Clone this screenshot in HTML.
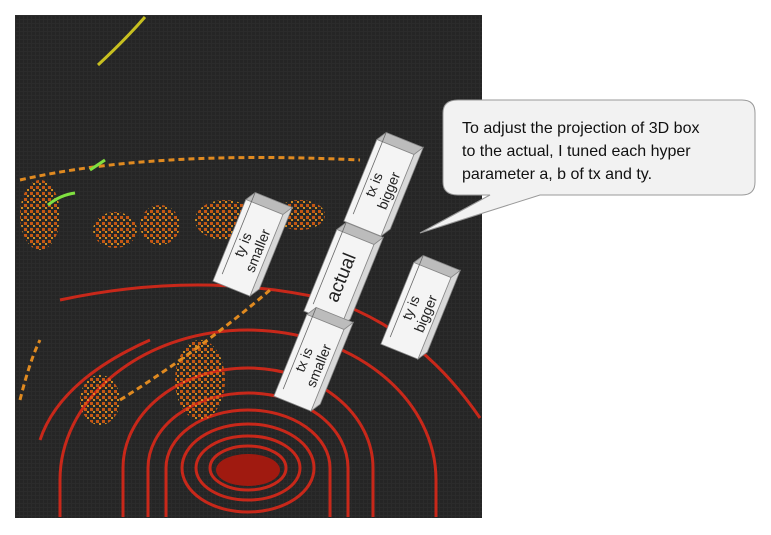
<!DOCTYPE html>
<html><head><meta charset="utf-8"><style>
html,body{margin:0;padding:0;background:#fff;width:771px;height:535px;overflow:hidden;font-family:"Liberation Sans",Arial,sans-serif}
svg{display:block}
</style></head><body>
<svg width="771" height="535" viewBox="0 0 771 535">
<defs>
<pattern id="grid" width="4" height="4" patternUnits="userSpaceOnUse"><rect width="4" height="4" fill="#2b2b2b"/><rect width="3" height="3" fill="#252525"/></pattern>
<pattern id="speck" width="6" height="6" patternUnits="userSpaceOnUse"><rect width="3" height="3" fill="#e06010"/><rect x="3" y="3" width="2" height="2" fill="#f0a020"/></pattern>
</defs>
<g>
<rect x="15" y="15" width="467" height="503" fill="url(#grid)"/>
<g fill="none" stroke="#c8281a" stroke-width="3">
<ellipse cx="248" cy="468" rx="38" ry="22"/>
<ellipse cx="248" cy="468" rx="52" ry="32"/>
<ellipse cx="248" cy="468" rx="66" ry="44"/>
<path d="M166 517 L166 468 A82 58 0 0 1 330 468 L330 517"/>
<path d="M148 517 L148 468 A100 75 0 0 1 348 468 L348 517"/>
<path d="M123 517 L123 468 A125 100 0 0 1 373 468 L373 517"/>
<path d="M60 517 L60 480 A188 150 0 0 1 436 480 L436 517"/>
<path d="M60 300 Q200 270 330 300 Q420 330 480 418"/>
<path d="M40 440 Q60 380 150 340"/>
</g>
<ellipse cx="248" cy="470" rx="32" ry="16" fill="#a01a10"/>
<g fill="url(#speck)" opacity="0.85">
<ellipse cx="40" cy="215" rx="20" ry="35"/>
<ellipse cx="115" cy="230" rx="22" ry="18"/>
<ellipse cx="160" cy="225" rx="20" ry="20"/>
<ellipse cx="225" cy="220" rx="30" ry="20"/>
<ellipse cx="300" cy="215" rx="25" ry="15"/>
<ellipse cx="200" cy="380" rx="25" ry="40"/>
<ellipse cx="100" cy="400" rx="20" ry="25"/>
</g>
<g fill="none" stroke="#e08a20" stroke-width="3" stroke-dasharray="6 4">
<path d="M20 180 Q150 150 360 160"/>
<path d="M120 400 Q200 350 270 290"/>
<path d="M20 400 Q30 360 40 340"/>
</g>
<path d="M98 65 Q125 40 145 17" stroke="#c8c020" stroke-width="3" fill="none"/>
<path d="M48 205 Q60 195 75 193" stroke="#80e040" stroke-width="3" fill="none"/>
<path d="M90 170 L105 160" stroke="#80e040" stroke-width="3" fill="none"/>
</g>
<g id="boxes" font-size="14" fill="#222"></g>
<g>
<path d="M458 100 H742 Q755 100 755 113 V182 Q755 195 742 195 H540 L420 233 L490 195 H458 Q443 195 443 182 V113 Q443 100 458 100 Z" fill="#f2f2f2" stroke="#999" stroke-width="1"/>
<text x="462" y="133" font-size="16" fill="#111">To adjust the projection of 3D box</text>
<text x="462" y="156" font-size="16" fill="#111">to the actual, I tuned each hyper</text>
<text x="462" y="179" font-size="16" fill="#111">parameter a, b of tx and ty.</text>
</g>
</svg>
<script>
const boxLabels=[["tx is","bigger"],["ty is","smaller"],["actual"],["ty is","bigger"],["tx is","smaller"]];
const boxCenters=[[383,183],[252,243],[343,273],[420,306],[313,358]];
const g=document.getElementById('boxes');
const ns='http://www.w3.org/2000/svg';
boxLabels.forEach((lab,i)=>{
 const [cx,cy]=boxCenters[i];
 const b=document.createElementNS(ns,'g');
 
 
 b.setAttribute('transform',`translate(${cx},${cy}) rotate(22)`);
 b.innerHTML=`<polygon points="-22,-38 18,-38 24,-48 -16,-48" fill="#bcbcbc" stroke="#888" stroke-width="0.8"/>
 <polygon points="18,-38 24,-48 24,40 18,50" fill="#d8d8d8" stroke="#888" stroke-width="0.8"/>
 <rect x="-22" y="-38" width="40" height="88" fill="#f4f4f4" stroke="#888" stroke-width="0.8"/>
 <line x1="-16" y1="-48" x2="-16" y2="40" stroke="#666" stroke-width="0.8"/>`;
 const t=document.createElementNS(ns,'text');
 t.setAttribute('transform','rotate(-90)');
 t.setAttribute('text-anchor','middle');
 t.setAttribute('font-size',lab.length==1?'19':'14');
 if(lab.length==1){t.setAttribute('x','-5');t.setAttribute('y','6');t.textContent=lab[0];}
 else{t.innerHTML=`<tspan x="-5" y="-3">${lab[0]}</tspan><tspan x="-5" y="13">${lab[1]}</tspan>`;}
 b.appendChild(t);
 g.appendChild(b);
});
</script>
</body></html>
